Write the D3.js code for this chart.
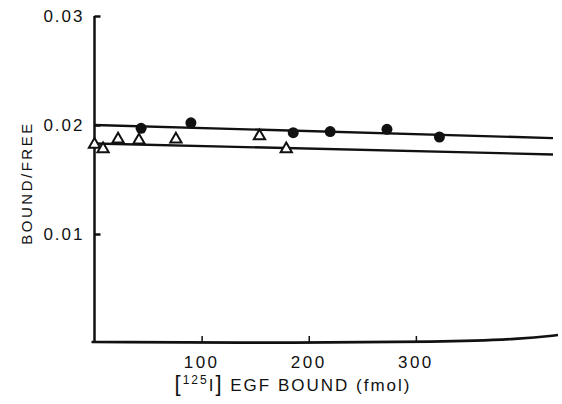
<!DOCTYPE html>
<html>
<head>
<meta charset="utf-8">
<script src="https://cdn.jsdelivr.net/npm/d3@7"></script>
<style>
  body { margin: 0; background: #fff; }
  text { font-family: "Liberation Sans", Arial, sans-serif; fill: #111; }
</style>
</head>
<body>
<script>
// === data ===
const circleX = [43.5, 90, 185.5, 220, 273, 322]
const circleY = [0.0197, 0.0202, 0.0193, 0.0194, 0.0196, 0.0189]
const triX = [0, 8, 22, 41.5, 76, 154, 179]
const triY = [0.0182, 0.0178, 0.0187, 0.0186, 0.0187, 0.0190, 0.0178]
// fitted lines (start / end)
const fitX = [0, 428]
const fitCircle = [0.0200, 0.0188]
const fitTri = [0.0183, 0.0173]
const xTicks = [100, 200, 300]
const yTicks = [0.01, 0.02, 0.03]

const W = 562, H = 404

const svg = d3.select("body").append("svg")
    .attr("width", W)
    .attr("height", H)

const x = d3.scaleLinear().domain([0, 428]).range([94.5, 553])
const y = d3.scaleLinear().domain([0, 0.03]).range([343, 16])

// Y axis
svg.append("g")
    .attr("transform", "translate(" + x(0) + ",0)")
    .call(d3.axisRight(y).tickValues(yTicks).tickSize(6).tickFormat(""))
    .call(g => g.select(".domain").attr("d", "M0," + y(0.03) + "V" + (y(0) - 1)))
    .call(g => g.selectAll("line, path").attr("stroke", "#111").attr("stroke-width", 2.5))

svg.append("g").selectAll("text.ylab")
    .data(yTicks)
    .enter()
    .append("text")
    .attr("x", x(0) - 10)
    .attr("y", d => y(d))
    .attr("dy", "0.36em")
    .attr("text-anchor", "end")
    .attr("font-size", 17)
    .attr("letter-spacing", 2)
    .text(d => d3.format(".2f")(d))

// X axis
const xg = svg.append("g")
    .attr("transform", "translate(0," + y(0) + ")")
    .call(d3.axisTop(x).tickValues(xTicks).tickSize(7).tickFormat(""))
xg.select(".domain").remove()
xg.selectAll("line").attr("stroke", "#111").attr("stroke-width", 1.5)

// baseline bends up at the far right in the scan
svg.append("path")
    .attr("d", d3.line().curve(d3.curveBasis)([
        [x(0) - 3, y(0) - 1], [x(200), y(0)], [x(320), y(0) - 1], [x(400), y(0) - 4], [558, y(0) - 8]
    ]))
    .attr("fill", "none")
    .attr("stroke", "#111")
    .attr("stroke-width", 2.6)

svg.append("g").selectAll("text.xlab")
    .data(xTicks)
    .enter()
    .append("text")
    .attr("x", d => x(d))
    .attr("y", y(0) + 25)
    .attr("text-anchor", "middle")
    .attr("font-size", 17)
    .attr("letter-spacing", 2.5)
    .text(d => d)

// fitted lines
const line = d3.line()
    .x(d => x(d[0]))
    .y(d => y(d[1]))

svg.append("path")
    .datum(d3.zip(fitX, fitCircle))
    .attr("d", line)
    .attr("fill", "none")
    .attr("stroke", "#111")
    .attr("stroke-width", 2.4)

svg.append("path")
    .datum(d3.zip(fitX, fitTri))
    .attr("d", line)
    .attr("fill", "none")
    .attr("stroke", "#111")
    .attr("stroke-width", 2.4)

// filled circles
svg.append("g").selectAll("circle")
    .data(d3.zip(circleX, circleY))
    .enter()
    .append("circle")
    .attr("cx", d => x(d[0]))
    .attr("cy", d => y(d[1]))
    .attr("r", 5.5)
    .attr("fill", "#111")

// open triangles
const tri = d3.symbol().type(d3.symbolTriangle).size(55)
svg.append("g").selectAll("path")
    .data(d3.zip(triX, triY))
    .enter()
    .append("path")
    .attr("d", tri)
    .attr("transform", d => "translate(" + x(d[0]) + "," + y(d[1]) + ")")
    .attr("fill", "#fff")
    .attr("stroke", "#111")
    .attr("stroke-width", 2)

// axis titles
svg.append("text")
    .attr("transform", "translate(32,183) rotate(-90)")
    .attr("text-anchor", "middle")
    .attr("font-size", 15)
    .attr("letter-spacing", 2.5)
    .text("BOUND/FREE")

const xt = svg.append("text")
    .attr("x", 293)
    .attr("y", 391)
    .attr("text-anchor", "middle")
    .attr("font-size", 17)
    .attr("letter-spacing", 2)
xt.append("tspan").attr("font-size", 22).text("[")
xt.append("tspan").attr("font-size", 12).attr("dy", -7).text("125")
xt.append("tspan").attr("dy", 7).text("I")
xt.append("tspan").attr("font-size", 22).text("]")
xt.append("tspan").text(" EGF BOUND (fmol)")
</script>
</body>
</html>
